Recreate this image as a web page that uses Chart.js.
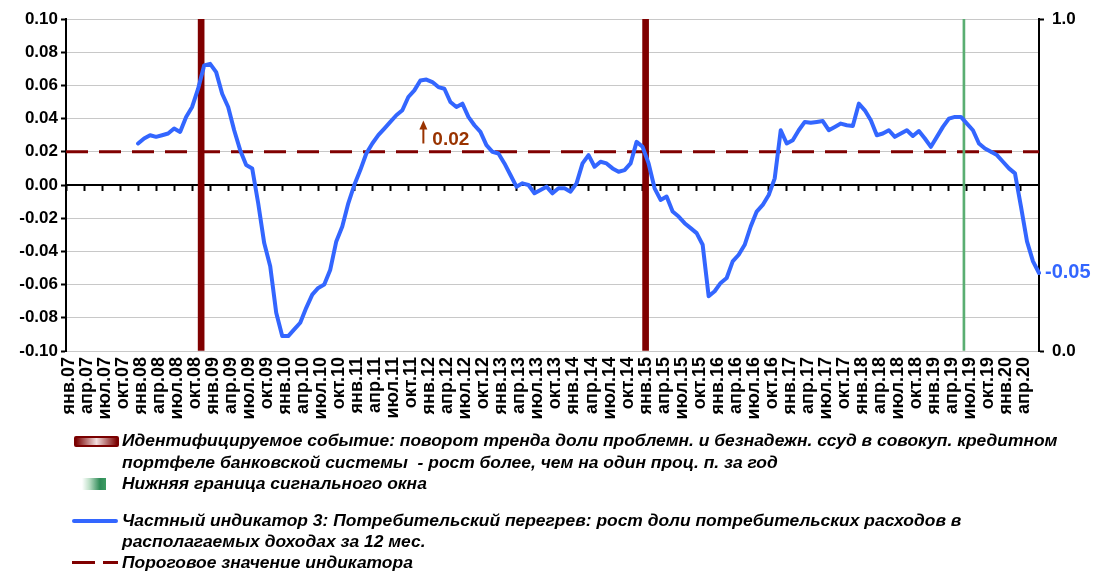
<!DOCTYPE html>
<html>
<head>
<meta charset="utf-8">
<script src="https://cdn.jsdelivr.net/npm/chart.js@4.4.1/dist/chart.umd.min.js"></script>
<style>
html,body{margin:0;padding:0;background:#fff;}
#wrap{position:relative;width:1094px;height:572px;overflow:hidden;}
#c{position:absolute;left:0;top:0;}
.lg{position:absolute;left:122px;font:italic bold 16px "Liberation Sans",Arial,sans-serif;white-space:pre;line-height:20px;color:#000;transform-origin:0 50%;}
.sym{position:absolute;}
</style>
</head>
<body>
<div id="wrap">
<canvas id="c" width="1094" height="572"></canvas>

<div class="sym" style="left:74px;top:436px;width:41px;height:7px;border:2px solid #7a0000;border-radius:2px;background:linear-gradient(90deg,#7a0000,#f2dede 50%,#7a0000)"></div>
<div class="lg" style="top:431px">Идентифицируемое событие: поворот тренда доли проблемн. и безнадежн. ссуд в совокуп. кредитном</div>
<div class="lg" style="top:453px">портфеле банковской системы  - рост более, чем на один проц. п. за год</div>

<div class="sym" style="left:82px;top:478px;width:24px;height:12px;background:linear-gradient(90deg,#ffffff,#bfe0c9 30%,#2e8b57 75%,#3c9c62)"></div>
<div class="lg" style="top:474px">Нижняя граница сигнального окна</div>

<div class="sym" style="left:72px;top:519px;width:46px;height:4px;border-radius:2px;background:#3366ff"></div>
<div class="lg" style="top:511px">Частный индикатор 3: Потребительский перегрев: рост доли потребительских расходов в</div>
<div class="lg" style="top:532px">располагаемых доходах за 12 мес.</div>

<div class="sym" style="left:72px;top:561px;width:23px;height:3px;background:#800000"></div>
<div class="sym" style="left:103px;top:561px;width:15px;height:3px;background:#800000"></div>
<div class="lg" style="top:553px">Пороговое значение индикатора</div>
</div>

<script>
/* ---------- данные ---------- */
const monthNames = ["янв","фев","мар","апр","май","июн","июл","авг","сен","окт","ноя","дек"];
const years = ["07","08","09","10","11","12","13","14","15","16","17","18","19","20"];
// категории основной оси: янв.07 .. июн.20
const categories = years.flatMap(y => monthNames.map(m => m + "." + y)).slice(0, 162);
// ось линий (на делениях), начинается на месяц раньше
const lineMonths = ["дек.06"].concat(categories);

// Частный индикатор 3 (по месяцам основной оси)
const indicator3 = [
  null,null,null,null,null,null,null,null,null,null,null,0.025,                 // 2007
  0.028,0.030,0.029,0.030,0.031,0.034,0.032,0.041,0.047,0.058,0.072,0.073,     // 2008
  0.068,0.055,0.047,0.033,0.021,0.012,0.010,-0.011,-0.035,-0.049,-0.077,-0.091,// 2009
  -0.091,-0.087,-0.083,-0.074,-0.066,-0.062,-0.060,-0.051,-0.034,-0.025,-0.011,0.000, // 2010
  0.009,0.019,0.025,0.030,0.034,0.038,0.042,0.045,0.053,0.057,0.063,0.0635,    // 2011
  0.062,0.059,0.058,0.050,0.047,0.049,0.041,0.036,0.032,0.024,0.020,0.019,     // 2012
  0.013,0.006,-0.001,0.001,0.000,-0.005,-0.003,-0.001,-0.005,-0.002,-0.002,-0.004, // 2013
  0.001,0.013,0.018,0.011,0.014,0.013,0.010,0.008,0.009,0.013,0.026,0.023,     // 2014
  0.013,-0.002,-0.009,-0.007,-0.016,-0.019,-0.023,-0.026,-0.029,-0.036,-0.067,-0.064, // 2015
  -0.059,-0.056,-0.046,-0.042,-0.036,-0.025,-0.016,-0.012,-0.006,0.004,0.033,0.025,   // 2016
  0.027,0.033,0.038,0.0375,0.038,0.0385,0.033,0.035,0.037,0.036,0.0355,0.049, // 2017
  0.045,0.039,0.030,0.031,0.033,0.029,0.031,0.033,0.0295,0.0325,0.028,0.023,  // 2018
  0.029,0.035,0.040,0.041,0.041,0.037,0.033,0.025,0.022,0.020,0.018,0.014,    // 2019
  0.010,0.007,-0.013,-0.034,-0.046,-0.053                                      // 2020
];
const threshold = 0.02;
const eventMonths = ["ноя.08","янв.15"];   // поворот тренда доли проблемных ссуд
const signalMonths = ["июн.19"];           // нижняя граница сигнального окна
const yTicks = {min:-0.10, max:0.10, step:0.02};
const note = {month:"дек.11", value:0.025, text:"0.02"};

const FONT = '"Liberation Sans", Arial, sans-serif';
const BLUE = "#3366ff", DARKRED = "#800000";

/* ---------- подписи поверх графика ---------- */
const notesPlugin = {
  id:"notes",
  afterDatasetsDraw(chart){
    const {ctx, scales} = chart;
    // значение последней точки
    const meta = chart.getDatasetMeta(0);
    let last = indicator3.length - 1;
    while(last > 0 && indicator3[last] == null) last--;
    const pt = meta.data[last + 1];
    ctx.save();
    ctx.fillStyle = BLUE;
    ctx.font = "bold 20px " + FONT;
    ctx.textAlign = "left"; ctx.textBaseline = "middle";
    ctx.fillText(indicator3[last].toFixed(2), pt.x + 6, pt.y);
    // стрелка и порог
    const x = scales.x.getPixelForValue(categories.indexOf(note.month));
    const y = scales.y.getPixelForValue(note.value);
    ctx.strokeStyle = ctx.fillStyle = "#993300";
    ctx.lineWidth = 2;
    ctx.beginPath(); ctx.moveTo(x, y); ctx.lineTo(x, y - 16); ctx.stroke();
    ctx.beginPath(); ctx.moveTo(x - 4, y - 14); ctx.lineTo(x + 4, y - 14); ctx.lineTo(x, y - 23); ctx.closePath(); ctx.fill();
    ctx.font = "bold 19px " + FONT;
    ctx.textBaseline = "alphabetic";
    ctx.fillText(note.text, x + 9, y + 1);
    ctx.restore();
  }
};

new Chart(document.getElementById("c"), {
  type:"bar",
  data:{
    datasets:[
      {type:"line", label:"Частный индикатор 3", data:[null].concat(indicator3), xAxisID:"xl", yAxisID:"y",
       borderColor:BLUE, borderWidth:4, pointRadius:0, tension:0, borderJoinStyle:"round", borderCapStyle:"round", order:0},
      {type:"bar", label:"Идентифицируемое событие", data:categories.map(c => eventMonths.includes(c) ? 1 : null),
       xAxisID:"x", yAxisID:"y2", backgroundColor:DARKRED, barPercentage:1, categoryPercentage:1, grouped:false, order:1},
      {type:"bar", label:"Нижняя граница сигнального окна", data:categories.map(c => signalMonths.includes(c) ? 1 : null),
       xAxisID:"x", yAxisID:"y2", backgroundColor:"#5aae72", barThickness:2, grouped:false, order:1},
      {type:"line", label:"Пороговое значение индикатора", data:lineMonths.map(() => threshold), xAxisID:"xl", yAxisID:"y",
       borderColor:DARKRED, borderWidth:3, borderDash:[22,11], pointRadius:0, order:2}
    ]
  },
  options:{
    responsive:false, animation:false,
    layout:{padding:{top:19, left:0, right:0, bottom:0}},
    plugins:{legend:{display:false}, tooltip:{enabled:false}},
    scales:{
      x:{type:"category", labels:categories, offset:true, position:"bottom",
         grid:{display:false, drawTicks:false}, border:{display:false},
         ticks:{autoSkip:false, maxRotation:90, minRotation:90, padding:6, color:"#000",
                font:{family:FONT, size:18, weight:"bold"},
                callback:(v, i) => i % 3 === 0 ? categories[i] : null},
         afterFit:s => { s.height = 221; }},
      xz:{type:"category", labels:categories, offset:true, position:{y:0},
          grid:{offset:true, drawOnChartArea:false, drawTicks:true, tickLength:5, tickWidth:2,
                tickColor:c => (c.index !== undefined && c.index % 3 === 0) ? "#000" : "rgba(0,0,0,0)"},
          border:{display:true, color:"#000", width:2},
          ticks:{display:false, autoSkip:false}},
      xl:{type:"category", labels:lineMonths, offset:false, display:false},
      y:{position:"left", min:yTicks.min, max:yTicks.max,
         ticks:{stepSize:yTicks.step, padding:3, color:"#000", font:{family:FONT, size:17, weight:"bold"},
                callback:v => Math.abs(v) < 1e-9 ? "0.00" : v.toFixed(2)},
         grid:{color:"#c8c8c8", lineWidth:1, tickColor:"#000", tickLength:5, tickWidth:2},
         border:{color:"#000", width:2},
         afterFit:s => { s.width = 66; }},
      y2:{position:"right", min:0, max:1,
          ticks:{stepSize:1, padding:8, color:"#000", font:{family:FONT, size:17, weight:"bold"},
                 callback:v => v.toFixed(1)},
          grid:{drawOnChartArea:false, tickColor:"#000", tickLength:5, tickWidth:2},
          border:{color:"#000", width:2},
          afterFit:s => { s.width = 55; }}
    }
  },
  plugins:[notesPlugin]
});

/* ---------- ширина легенды по образцу ---------- */
const ref = [...document.querySelectorAll(".lg")].find(e => e.textContent.startsWith("Нижняя"));
const k = 305 / ref.offsetWidth;
document.querySelectorAll(".lg").forEach(e => e.style.transform = "scaleX(" + k + ")");
</script>
</body>
</html>
